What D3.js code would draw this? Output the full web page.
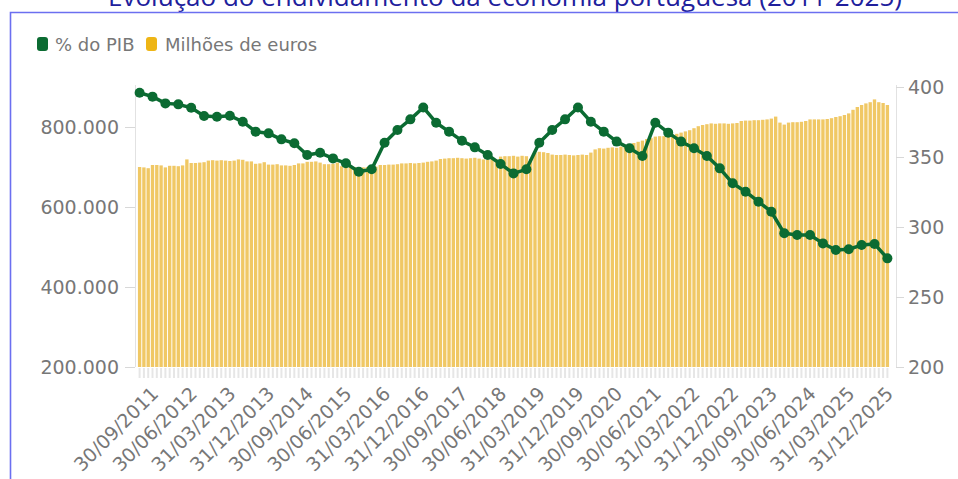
<!DOCTYPE html>
<html><head><meta charset="utf-8">
<script src="https://cdn.jsdelivr.net/npm/d3@7/dist/d3.min.js"></script>
<style>body{margin:0;background:#fff;overflow:hidden}svg{display:block}</style>
</head><body>
<svg id="chart" width="958" height="479"></svg>
<script>
const chartTitle = "Evolução do endividamento da economia portuguesa (2011-2025)";
const legendLabels = ["% do PIB", "Milhões de euros"];
const firstMonthEnd = "2011-06-30";
const lastMonthEnd = "2025-12-31";

// Dívida, milhões de euros (mensal)
const debtMillions = [
700000,699000,697000,705000,705000,704000,699000,703000,703000,702000,
704000,719000,710000,710000,711000,712000,716000,717000,716000,717000,
716000,715000,716000,719000,718000,714000,714000,708000,709000,712000,
706000,706000,707000,704000,704000,703000,705000,709000,709000,713000,
713000,714000,711000,707000,707000,708000,711000,702000,701000,701000,
700000,700000,699000,700000,700000,701000,705000,705000,706000,706000,
707000,709000,709000,710000,709000,710000,711000,713000,714000,716000,
720000,721000,722000,722000,723000,722000,721000,722000,723000,721000,
719000,719000,720000,719000,726000,727000,727000,728000,726000,728000,
727000,720000,736000,738000,737000,735000,731000,730000,730000,731000,
730000,729000,730000,731000,730000,736000,744000,747000,746000,748000,
749000,748000,751000,752000,754000,760000,763000,766000,770000,772000,
776000,777000,777000,778000,780000,783000,786000,789000,792000,797000,
802000,805000,807000,809000,808000,809000,809000,808000,809000,810000,
815000,816000,816000,817000,817000,818000,819000,821000,826000,811000,
806000,811000,812000,812000,813000,815000,819000,819000,819000,819000,
820000,822000,825000,827000,830000,834000,843000,850000,855000,859000,
862000,869000,862000,860000,855000
];
// Dívida em % do PIB (trimestral)
const debtPctGDP = [
395.9,393.1,388.3,387.6,385.2,379.3,378.8,379.5,375.2,368.1,
366.9,362.6,359.8,351.4,353.0,349.0,345.5,339.5,341.2,360.2,
369.3,376.9,385.4,374.5,368.1,361.6,356.9,351.4,345.0,338.3,
341.2,360.2,369.3,376.9,385.4,375.2,368.1,361.0,356.2,350.7,
374.5,367.4,361.0,356.2,350.7,341.9,331.2,325.2,318.1,310.9,
295.5,294.3,294.3,288.3,283.6,284.1,287.1,287.9,277.6
];
const leftTicks = [200000, 400000, 600000, 800000];
const rightTicks = [200, 250, 300, 350, 400];
const xTickLabels = ["30/09/2011","30/06/2012","31/03/2013","31/12/2013","30/09/2014",
"30/06/2015","31/03/2016","31/12/2016","30/09/2017","30/06/2018","31/03/2019",
"31/12/2019","30/09/2020","30/06/2021","31/03/2022","31/12/2022","30/09/2023",
"30/06/2024","31/03/2025","31/12/2025"];

const GREEN = "#0b6b32", YELLOW = "#eeb515", BAR = "#f0c865", GREY = "#777";
const fmtDate = d3.utcFormat("%d/%m/%Y");
const monthStarts = d3.utcMonth.range(d3.utcDay.offset(new Date(firstMonthEnd + "T00:00Z"), 1),
                                      d3.utcDay.offset(new Date(lastMonthEnd + "T00:00Z"), 2));
const categories = monthStarts.map(d => fmtDate(d3.utcDay.offset(d, -1)));
const bars = categories.map((c, i) => ({c, v: debtMillions[i]}));
const quarterCats = categories.filter((c, i) => i % 3 === 0);
const pts = quarterCats.map((c, i) => ({c, v: debtPctGDP[i]}));

const svg = d3.select("#chart");
const plotTop = 87, plotBottom = 367;
const x = d3.scaleBand().domain(categories).range([137.5, 889.5]).paddingInner(0.22).paddingOuter(0.1);
const yL = d3.scaleLinear().domain([200000, 900000]).range([plotBottom, plotTop]);
const yR = d3.scaleLinear().domain([200, 400]).range([plotBottom, plotTop]);
const locale = d3.formatLocale({decimal: ",", thousands: ".", grouping: [3], currency: ["", "€"]});
const fmtL = locale.format(",.0f");

// frame + title
svg.append("text").attr("x", 505).attr("y", 6).attr("text-anchor", "middle")
  .attr("font-family", "Open Sans").attr("font-size", 26).attr("fill", "#20209c").text(chartTitle);
svg.append("path").attr("d", "M10.5,479V12.5H958").attr("fill", "none").attr("stroke", "#6b6ff0").attr("stroke-width", 1.6);

// legend
const lg = svg.append("g").attr("font-family", "DejaVu Sans").attr("font-size", 18).attr("fill", GREY);
[[37, 55, GREEN], [146, 165, YELLOW]].forEach(([sx, tx, col], i) => {
  lg.append("rect").attr("x", sx).attr("y", 37).attr("width", 11).attr("height", 14).attr("rx", 3).attr("fill", col);
  lg.append("text").attr("x", tx).attr("y", 50.5).text(legendLabels[i]);
});

// category ticks below bars
svg.append("g").selectAll("line").data(categories).join("line")
  .attr("x1", d => x(d) + x.bandwidth() / 2).attr("x2", d => x(d) + x.bandwidth() / 2)
  .attr("y1", plotBottom + 1).attr("y2", plotBottom + 11).attr("stroke", "#e6e6e6").attr("stroke-width", 2);

// bars
svg.append("g").selectAll("rect").data(bars).join("rect")
  .attr("x", d => x(d.c)).attr("width", x.bandwidth())
  .attr("y", d => yL(d.v)).attr("height", d => plotBottom - yL(d.v)).attr("fill", BAR);

// left axis
const gl = svg.append("g").attr("transform", "translate(135,0)")
  .call(d3.axisLeft(yL).tickValues(leftTicks).tickFormat(fmtL).tickSize(10).tickPadding(6));
gl.select(".domain").attr("stroke", "#e2e2e2").attr("d", `M0.5,${plotTop - 2}V${plotBottom}`);
gl.selectAll(".tick line").attr("stroke", "#d8d8d8");
gl.selectAll(".tick text").attr("font-family", "DejaVu Sans").attr("font-size", 19).attr("fill", GREY);

// right axis
const gr = svg.append("g").attr("transform", "translate(896,0)")
  .call(d3.axisRight(yR).tickValues(rightTicks).tickSize(8).tickPadding(4));
gr.select(".domain").attr("stroke", "#e2e2e2").attr("d", `M0.5,${plotTop - 2}V${plotBottom}`);
gr.selectAll(".tick line").attr("stroke", "#d8d8d8");
gr.selectAll(".tick text").attr("font-family", "DejaVu Sans").attr("font-size", 19).attr("fill", GREY);

// x labels
const xt = categories.filter(c => xTickLabels.includes(c));
svg.append("g").selectAll("text").data(xt).join("text")
  .attr("transform", d => `translate(${x(d) + x.bandwidth() / 2 + 7},395) rotate(-45)`)
  .attr("text-anchor", "end").attr("font-family", "DejaVu Sans").attr("font-size", 19).attr("fill", GREY)
  .text(d => d);

// line
const cx = d => x(d.c) + x.bandwidth() / 2;
svg.append("path").datum(pts).attr("fill", "none").attr("stroke", GREEN).attr("stroke-width", 3.5)
  .attr("stroke-linejoin", "round")
  .attr("d", d3.line().x(cx).y(d => yR(d.v)));
svg.append("g").selectAll("circle").data(pts).join("circle")
  .attr("cx", cx).attr("cy", d => yR(d.v)).attr("r", 5).attr("fill", GREEN);
</script>
</body></html>
